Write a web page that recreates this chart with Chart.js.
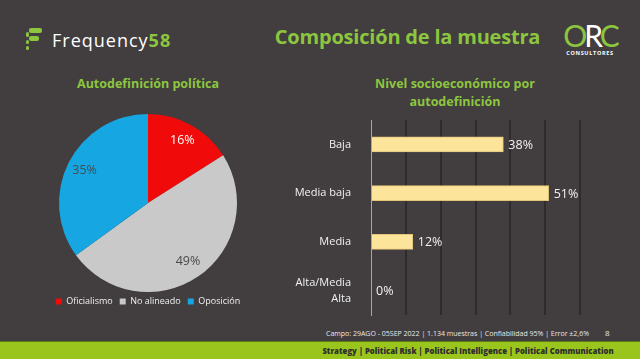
<!DOCTYPE html>
<html>
<head>
<meta charset="utf-8">
<script src="https://cdn.jsdelivr.net/npm/chart.js@4/dist/chart.umd.min.js"></script>
<style>
  html,body{margin:0;padding:0;}
  body{width:640px;height:359px;background:#423d3e;position:relative;overflow:hidden;font-family:"Open Sans",sans-serif;}
  .abs{position:absolute;}
  #title{left:245px;top:23px;width:325px;text-align:center;color:#8cc63f;font-weight:700;font-size:20px;letter-spacing:-0.2px;}
  #logoF{left:25px;top:25px;}
  .fb{position:absolute;background:#8cc63f;border-radius:2px;}
  #ftext{left:52px;top:28px;color:#fff;font-size:18px;font-weight:500;letter-spacing:1px;font-family:"Open Sans",sans-serif;}
  #ftext span{color:#8cc63f;font-weight:700;}
  #orc{left:559px;top:20px;width:62px;text-align:center;}
  #orc .big{font-size:30px;line-height:30px;font-weight:400;color:#fff;letter-spacing:-3px;font-family:"Lato",sans-serif;}
  #orc .g{color:#8cc63f;}
  #orc .small{font-size:5.5px;color:#fff;font-weight:700;letter-spacing:0.7px;margin-top:-1px;}
  #t1{left:40px;top:75px;width:216px;text-align:center;color:#8cc63f;font-weight:700;font-size:12.5px;}
  #t2{left:330px;top:75px;width:250px;text-align:center;color:#8cc63f;font-weight:700;font-size:12.5px;line-height:18px;}
  #pieWrap{left:20px;top:114px;width:256px;height:204px;}
  #barWrap{left:280px;top:115px;width:340px;height:205px;}
  #note{left:300px;top:329px;width:315px;text-align:center;color:#e8e8e8;font-size:7px;}
  #page{left:605px;top:327px;color:#e8e8e8;font-size:8px;}
  #band{left:0;top:341px;width:640px;height:18px;background:#9ac51d;border-top:1px solid #5d7a1a;}
  #bandText{left:312px;top:346px;width:312px;text-align:center;color:#2e2e2e;font-weight:800;font-size:7.8px;}
</style>
</head>
<body>
<div class="abs" id="logoF">
  <div class="fb" style="left:4px;top:3px;width:13px;height:5px;"></div>
  <div class="fb" style="left:4px;top:11px;width:10px;height:5px;"></div>
  <div class="fb" style="left:1px;top:7px;width:3px;height:5px;"></div>
  <div class="fb" style="left:1px;top:15px;width:3px;height:4px;"></div>
  <div class="fb" style="left:1px;top:21px;width:3px;height:4px;"></div>
</div>
<div class="abs" id="ftext">Frequency<span>58</span></div>
<div class="abs" id="title">Composición de la muestra</div>
<div class="abs" id="orc"><div class="big"><span class="g">O</span>R<span class="g">C</span></div><div class="small">CONSULTORES</div></div>

<div class="abs" id="t1">Autodefinición política</div>
<div class="abs" id="t2">Nivel socioeconómico por<br>autodefinición</div>

<div class="abs" id="pieWrap"><canvas id="pie"></canvas></div>
<div class="abs" id="barWrap"><canvas id="bar"></canvas></div>

<div class="abs" id="note">Campo: 29AGO - 05SEP 2022 | 1.134 muestras | Confiabilidad 95% | Error ±2,6%</div>
<div class="abs" id="page">8</div>
<div class="abs" id="band"></div>
<div class="abs" id="bandText">Strategy | Political Risk | Political Intelligence | Political Communication</div>

<script>
// ---- Data ----
const pieLabels = ['Oficialismo', 'No alineado', 'Oposición'];
const pieValues = [16, 49, 35];
const pieColors = ['#f00a0a', '#c9c9c9', '#16a6e2'];
const pieLabelColors = ['#ffffff', '#4a4a4a', '#4a4a4a'];

const barCategories = ['Baja', 'Media baja', 'Media', ['Alta/Media', 'Alta']];
const barValues = [38, 51, 12, 0];
const barMax = 60;

const FONT = '"Open Sans", sans-serif';

// pie value labels
const pieValuePlugin = {
  id: 'pieValues',
  afterDatasetsDraw(chart) {
    const ctx = chart.ctx;
    const meta = chart.getDatasetMeta(0);
    ctx.save();
    ctx.font = '500 12.5px ' + FONT;
    ctx.textAlign = 'center';
    ctx.textBaseline = 'middle';
    meta.data.forEach((arc, i) => {
      const p = arc.getProps(['x','y','startAngle','endAngle','outerRadius'], true);
      const mid = (p.startAngle + p.endAngle) / 2;
      const r = p.outerRadius * 0.8;
      ctx.fillStyle = pieLabelColors[i];
      ctx.fillText(pieValues[i] + '%', p.x + Math.cos(mid) * r, p.y + Math.sin(mid) * r);
    });
    ctx.restore();
  }
};
// pull legend closer to the pie
const legendShift = {
  id: 'legendShift',
  afterLayout(chart) {
    const l = chart.legend;
    if (l) { l.top -= 2; l.bottom -= 2; }
  }
};

new Chart(document.getElementById('pie'), {
  type: 'pie',
  data: {
    labels: pieLabels,
    datasets: [{ data: pieValues, backgroundColor: pieColors, borderWidth: 0 }]
  },
  options: {
    responsive: true,
    maintainAspectRatio: false,
    animation: false,
    layout: { padding: 0 },
    plugins: {
      legend: {
        position: 'bottom',
        labels: {
          color: '#f0f0f0',
          font: { family: FONT, size: 9, weight: '500' },
          boxWidth: 6, boxHeight: 6,
          padding: 7
        }
      },
      tooltip: { enabled: false }
    }
  },
  plugins: [pieValuePlugin, legendShift]
});

// bar value labels
const barValuePlugin = {
  id: 'barValues',
  afterDatasetsDraw(chart) {
    const ctx = chart.ctx;
    const meta = chart.getDatasetMeta(0);
    ctx.save();
    ctx.font = '500 12.5px ' + FONT;
    ctx.fillStyle = '#f2f2f2';
    ctx.textAlign = 'left';
    ctx.textBaseline = 'middle';
    meta.data.forEach((bar, i) => {
      ctx.fillText(barValues[i] + '%', bar.x + 5, bar.y + 1);
    });
    ctx.restore();
  }
};

new Chart(document.getElementById('bar'), {
  type: 'bar',
  data: {
    labels: barCategories,
    datasets: [{
      data: barValues,
      backgroundColor: '#fde49b',
      borderColor: '#e3c57a',
      borderWidth: 1,
      barThickness: 15
    }]
  },
  options: {
    indexAxis: 'y',
    responsive: true,
    maintainAspectRatio: false,
    animation: false,
    layout: { padding: { top: 5, bottom: 5, right: 40, left: 0 } },
    plugins: { legend: { display: false }, tooltip: { enabled: false } },
    scales: {
      x: {
        min: 0, max: barMax,
        ticks: { display: false, stepSize: 10 },
        grid: {
          drawTicks: false,
          color: (c) => c.index === 0 ? 'rgba(0,0,0,0)' : '#2f2b2c',
          lineWidth: 2
        },
        border: { display: false },
        afterFit: (s) => { s.height = 0; s.paddingLeft = 0; s.paddingRight = 0; }
      },
      y: {
        grid: { display: false },
        border: { display: true, color: '#a9a6a6', width: 1 },
        ticks: {
          color: '#f2f2f2',
          padding: 12,
          font: { family: FONT, size: 11, weight: '500', lineHeight: 1.5 }
        },
        afterFit: (s) => { s.width = 91; s.paddingTop = 0; s.paddingBottom = 0; }
      }
    }
  },
  plugins: [barValuePlugin]
});
</script>
</body>
</html>
